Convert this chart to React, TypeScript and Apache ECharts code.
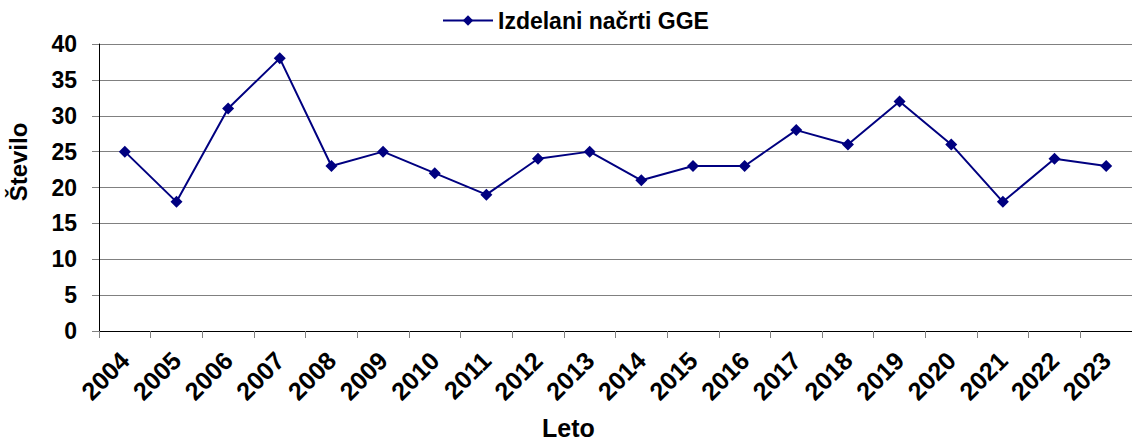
import React, { useEffect, useRef } from "react";
import * as echarts from "echarts";

const categories = ["2004","2005","2006","2007","2008","2009","2010","2011","2012","2013","2014","2015","2016","2017","2018","2019","2020","2021","2022","2023"];
const values = [25, 18, 31, 38, 23, 25, 22, 19, 24, 25, 21, 23, 23, 28, 26, 32, 26, 18, 24, 23];
const seriesName = "Izdelani načrti GGE";
const xTitle = "Leto";
const yTitle = "Število";

export default function App() {
  const ref = useRef<HTMLDivElement>(null);
  useEffect(() => {
    document.body.style.margin = "0";
    const chart = echarts.init(ref.current!, null, { renderer: "svg" });
    const font = "'Liberation Sans', Arial, sans-serif";
    chart.setOption({
      animation: false,
      backgroundColor: "#ffffff",
      grid: { left: 99, top: 44, width: 1039, height: 287, containLabel: false },
      legend: {
        data: [seriesName],
        left: 442,
        top: 9,
        padding: 0,
        itemWidth: 50,
        itemHeight: 13,
        itemGap: 5,
        textStyle: { fontFamily: font, fontWeight: "bold", fontSize: 23, color: "#000" },
      },
      xAxis: {
        type: "category",
        data: categories,
        boundaryGap: true,
        axisLine: { show: true, lineStyle: { color: "#000", width: 1 } },
        axisTick: { show: true, length: 7, lineStyle: { color: "#808080" } },
        axisLabel: {
          rotate: 45,
          interval: 0,
          margin: 25,
          fontFamily: font,
          fontWeight: "bold",
          fontSize: 25,
          color: "#000",
        },
        splitLine: { show: false },
      },
      yAxis: {
        type: "value",
        min: 0,
        max: 40,
        interval: 5,
        axisLine: { show: true, lineStyle: { color: "#000", width: 1 } },
        axisTick: { show: true, length: 7, lineStyle: { color: "#808080" } },
        axisLabel: { margin: 22, fontFamily: font, fontWeight: "bold", fontSize: 23, color: "#000" },
        splitLine: { show: true, lineStyle: { color: "#808080", width: 1 } },
      },
      graphic: [
        {
          type: "text",
          left: 542,
          top: 415,
          style: { text: xTitle, fontFamily: font, fontWeight: "bold", fontSize: 25, fill: "#000" },
        },
        {
          type: "text",
          x: 18,
          y: 162,
          rotation: Math.PI / 2,
          style: {
            text: yTitle,
            fontFamily: font,
            fontWeight: "bold",
            fontSize: 24,
            fill: "#000",
            align: "center",
            verticalAlign: "middle",
          },
        },
      ],
      series: [
        {
          name: seriesName,
          type: "line",
          data: values,
          symbol: "diamond",
          symbolSize: 12,
          lineStyle: { color: "#000080", width: 2 },
          itemStyle: { color: "#000080" },
        },
      ],
    });
    return () => chart.dispose();
  }, []);
  return <div ref={ref} style={{ width: 1132, height: 442 }} />;
}
